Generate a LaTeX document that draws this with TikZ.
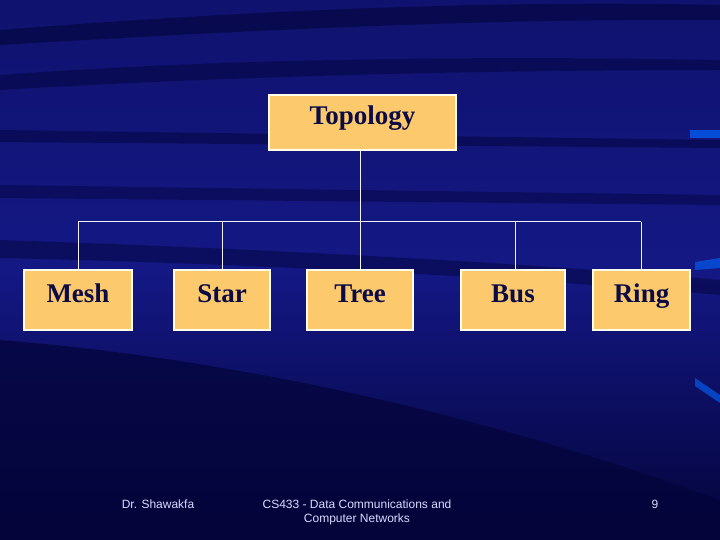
\documentclass[tikz,border=0pt]{standalone}
\usepackage{fontspec}
\setmainfont{Liberation Serif}
\newfontfamily\footfont{Liberation Sans}
\begin{document}
\begin{tikzpicture}[x=1pt,y=-1pt,
  topbox/.style={draw=white!92!yellow,line width=1.3pt,fill=boxfill,text=boxtext,inner sep=0pt,text height=0.7em,text depth=0.22em,font=\bfseries\fontsize{27}{30}\selectfont},
  conn/.style={draw=white!90!gray,line width=1pt},
  foot/.style={text=white!85!blue,font=\footfont\fontsize{12}{14}\selectfont,align=center}]
\definecolor{bgdark}{HTML}{04043A}
\definecolor{bgmid}{HTML}{141884}
\definecolor{boxfill}{HTML}{FCC96C}
\definecolor{boxtext}{HTML}{0B0B45}
\useasboundingbox (0,0) rectangle (720,540);
\shade[top color=bgmid!70!bgdark,bottom color=bgdark,middle color=bgmid] (0,0) rectangle (720,540);
% streaks
\fill[bgdark,opacity=0.6] (0,30) .. controls (250,10) and (500,0) .. (720,5) -- (720,20) .. controls (500,18) and (250,30) .. (0,45) -- cycle;
\fill[bgdark,opacity=0.5] (0,75) .. controls (200,60) and (450,55) .. (720,60) -- (720,70) .. controls (450,70) and (200,78) .. (0,90) -- cycle;
\fill[bgdark,opacity=0.5] (0,130) -- (720,140) -- (720,148) -- (0,142) -- cycle;
\fill[bgdark,opacity=0.45] (0,185) -- (720,195) -- (720,205) -- (0,198) -- cycle;
\fill[bgdark,opacity=0.5] (0,240) .. controls (300,250) and (550,265) .. (720,280) -- (720,295) .. controls (550,280) and (300,265) .. (0,258) -- cycle;
\fill[bgdark,opacity=0.75] (0,340) .. controls (250,360) and (500,420) .. (720,500) -- (720,540) -- (0,540) -- cycle;
\fill[blue!60!cyan,opacity=0.7] (690,130) rectangle (720,138);
\fill[blue!60!cyan,opacity=0.6] (695,262) -- (720,258) -- (720,268) -- (695,270) -- cycle;
\fill[blue!60!cyan,opacity=0.6] (695,378) -- (720,395) -- (720,403) -- (695,386) -- cycle;
% boxes
\node[topbox,minimum width=187pt,minimum height=55pt] (top) at (362.5,122.5) {Topology};
\node[topbox,minimum width=108pt,minimum height=60pt] (mesh) at (78,300) {Mesh};
\node[topbox,minimum width=96pt,minimum height=60pt] (star) at (222,300) {Star};
\node[topbox,minimum width=106pt,minimum height=60pt] (tree) at (360,300) {Tree};
\node[topbox,minimum width=104pt,minimum height=60pt] (bus) at (513,300) {Bus};
\node[topbox,minimum width=97pt,minimum height=60pt] (ring) at (641.5,300) {Ring};
\coordinate (hub) at (360,222);
\coordinate (hl) at (78,222);
\coordinate (hr) at (641,222);
\draw[conn] (top.south -| hub) -- (hub);
\draw[conn] (hl) -- (hr);
\draw[conn] (hl) -- (mesh.north);
\draw[conn] (222,222) -- (star.north);
\draw[conn] (hub) -- (tree.north);
\draw[conn] (515,222) -- (515,270);
\draw[conn] (hr) -- (641,270);
% footer
\node[foot] (f1) at (158,504) {Dr. Shawakfa};
\node[foot] (f2) at (357,512) {CS433 - Data Communications and\\Computer Networks};
\node[foot] (f3) at (655,504) {9};
\end{tikzpicture}
\end{document}
